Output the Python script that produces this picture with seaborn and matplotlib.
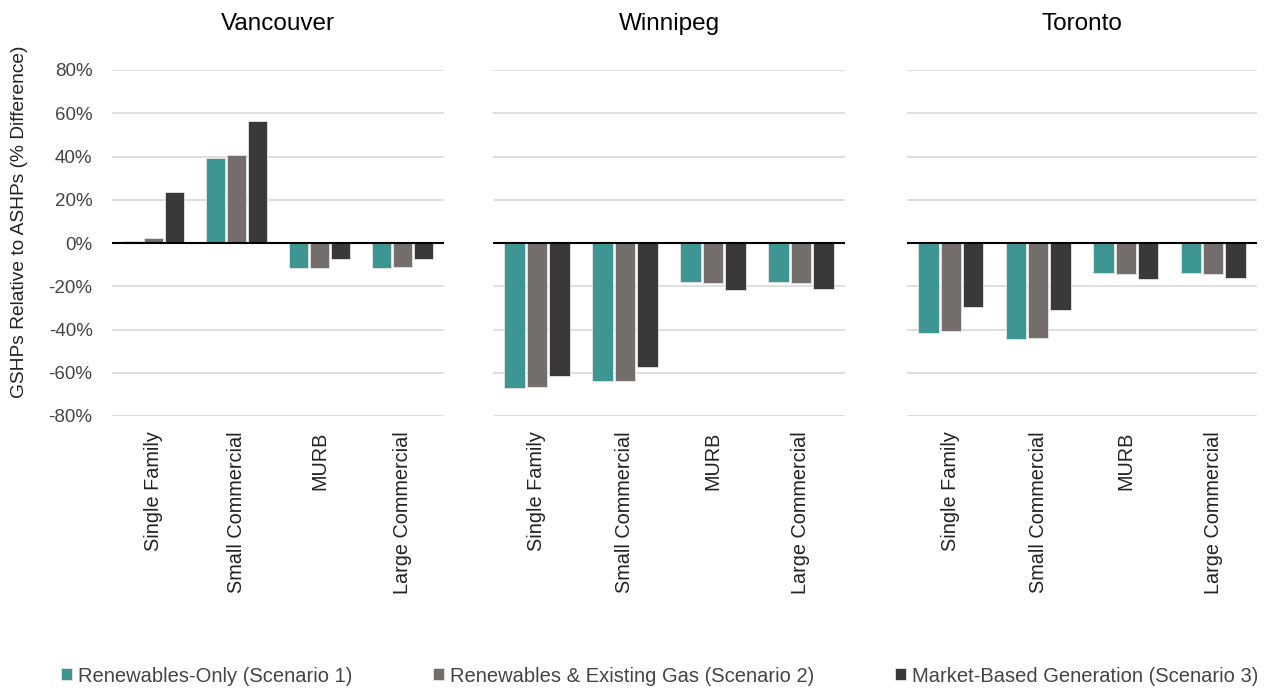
import numpy as np
import pandas as pd
import matplotlib
matplotlib.use("Agg")
import matplotlib.pyplot as plt
import matplotlib.ticker as ticker
import seaborn as sns

# data (% difference, GSHP vs ASHP)
cities = ["Vancouver", "Winnipeg", "Toronto"]
buildings = ["Single Family", "Small Commercial", "MURB", "Large Commercial"]
scenarios = ["Renewables-Only (Scenario 1)",
             "Renewables & Existing Gas (Scenario 2)",
             "Market-Based Generation (Scenario 3)"]

vancouver_s1 = [1.0, 39.4, -11.7, -11.4]
vancouver_s2 = [2.2, 40.7, -11.4, -11.2]
vancouver_s3 = [23.4, 56.3, -7.5, -7.5]

winnipeg_s1 = [-66.9, -64.0, -18.0, -18.0]
winnipeg_s2 = [-66.6, -63.8, -18.3, -18.3]
winnipeg_s3 = [-61.5, -57.5, -21.8, -21.5]

toronto_s1 = [-41.6, -44.4, -14.0, -14.0]
toronto_s2 = [-40.8, -43.8, -14.2, -14.2]
toronto_s3 = [-29.4, -31.1, -16.5, -16.3]

colors = ["#3d9691", "#736e6c", "#3a3839"]

rows = []
series = {
    "Vancouver": [vancouver_s1, vancouver_s2, vancouver_s3],
    "Winnipeg": [winnipeg_s1, winnipeg_s2, winnipeg_s3],
    "Toronto": [toronto_s1, toronto_s2, toronto_s3],
}
for c in cities:
    for s, vals in zip(scenarios, series[c]):
        for b, v in zip(buildings, vals):
            rows.append({"City": c, "Building": b, "Scenario": s, "Value": v})
df = pd.DataFrame(rows)

sns.set_theme(style="white")
plt.rcParams['font.family'] = ['Liberation Sans', 'DejaVu Sans']

fig = plt.figure(figsize=(12.7, 6.9), dpi=100)
W, H = 1270.0, 690.0
# panel extents in pixels (left, right)
panels = [(112, 444), (493, 845), (907, 1257)]
top_px, bot_px = 70, 416

axes = []
for i, (c, (l, r)) in enumerate(zip(cities, panels)):
    ax = fig.add_axes([l / W, 1 - bot_px / H, (r - l) / W, (bot_px - top_px) / H])
    sns.barplot(data=df[df.City == c], x="Building", y="Value", hue="Scenario",
                order=buildings, hue_order=scenarios, palette=colors, saturation=1,
                width=0.76, gap=0.08, edgecolor="#e6e6e6", linewidth=0.6,
                ax=ax, legend=(i == 0), zorder=3)
    ax.set_ylim(-80, 80)
    ax.set_xlim(-0.5, 3.5)
    ax.yaxis.set_major_locator(ticker.MultipleLocator(20))
    ax.yaxis.set_major_formatter(ticker.FuncFormatter(lambda v, p: "%d%%" % v))
    ax.grid(axis="y", color="#d9d9d9", linewidth=1.2, zorder=0)
    ax.axhline(0, color="black", linewidth=1.5, zorder=4)
    for sp in ax.spines.values():
        sp.set_visible(False)
    ax.set_xlabel("")
    ax.set_ylabel("")
    ax.tick_params(axis="x", rotation=90, labelsize=14.3, colors="#222222", pad=11, length=0)
    ax.tick_params(axis="y", labelsize=13.5, colors="#444444", length=0, pad=14)
    for lab in ax.get_xticklabels():
        lab.set_verticalalignment("top")
    if i > 0:
        ax.set_yticklabels([])
    else:
        ax.set_ylabel("GSHPs Relative to ASHPs (% Difference)", fontsize=13.8, color="#222222")
        ax.yaxis.set_label_coords((28 - l) / (r - l), (bot_px - 222) / (bot_px - top_px))
    ax.set_title(c, fontsize=17.5, color="black", pad=29)
    axes.append(ax)

handles, labels = axes[0].get_legend_handles_labels()
axes[0].get_legend().remove()
fig.legend(handles, labels, loc="center", bbox_to_anchor=(660 / W, 14 / H), ncol=3,
           frameon=False, fontsize=14.5, handlelength=0.55, handleheight=0.55,
           handletextpad=0.3, columnspacing=4.0, labelcolor="#444444")

fig.savefig("out.png", dpi=100)
